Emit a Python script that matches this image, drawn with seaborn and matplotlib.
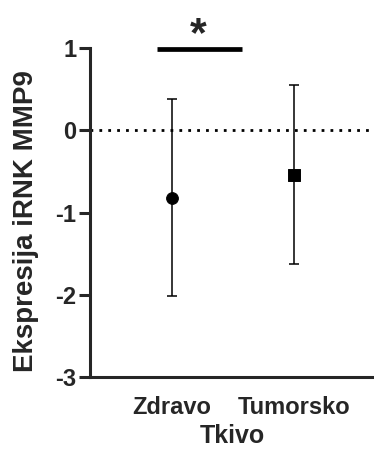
import matplotlib
matplotlib.use("Agg")
import matplotlib.pyplot as plt
import seaborn as sns
import pandas as pd
import numpy as np

groups = ["Zdravo", "Tumorsko"]
means = [-0.82, -0.54]
upper = [0.38, 0.55]
lower = [-2.02, -1.63]
markers = ["o", "s"]
yticks = [1, 0, -1, -2, -3]
xlabel = "Tkivo"
ylabel = "Ekspresija iRNK MMP9"
sig_text = "*"

sns.set_style("ticks")
plt.rcParams["font.family"] = ["Liberation Sans", "DejaVu Sans"]
plt.rcParams["font.weight"] = "bold"

df = pd.DataFrame({"group": groups, "mean": means})

fig = plt.figure(figsize=(3.74, 4.58), dpi=100)
ax = fig.add_axes([0.241, 0.177, 0.759, 0.718])

xpos = np.arange(len(groups))
yerr = [np.array(means) - np.array(lower), np.array(upper) - np.array(means)]
ax.errorbar(xpos, means, yerr=yerr, fmt="none", ecolor="black",
            elinewidth=1.1, capsize=3.5, capthick=1.1, zorder=3)
for i, g in enumerate(groups):
    sub = df[df["group"] == g]
    sns.scatterplot(data=sub, x=[i], y="mean", marker=markers[i], s=72,
                    color="black", edgecolor="black", ax=ax, zorder=4)

ax.axhline(0, color="black", linestyle=(0, (1, 2.2)), linewidth=2.0, zorder=1)

# significance bar
ax.plot([-0.12, 0.57], [0.985, 0.985], color="black", linewidth=3.4,
        clip_on=False, solid_capstyle="butt")
ax.text(0.215, 0.92, sig_text, ha="center", va="bottom", fontsize=31,
        fontweight="bold", clip_on=False)

ax.set_xlim(-0.67, 1.65)
ax.set_ylim(-3, 1)
ax.set_yticks(yticks)
ax.set_yticklabels([str(t) for t in yticks], fontsize=17, fontweight="bold")
ax.set_xticks(xpos)
ax.set_xticklabels(groups, fontsize=17, fontweight="bold")
ax.tick_params(axis="x", length=0, pad=14)
ax.tick_params(axis="y", length=8, width=2.2, pad=2)
ax.set_xlabel(xlabel, fontsize=18, fontweight="bold", labelpad=3)
ax.set_ylabel(ylabel, fontsize=20, fontweight="bold")
ax.yaxis.set_label_coords(-0.18, 0.474)

sns.despine(ax=ax, right=True, top=True)
for s in ["left", "bottom"]:
    ax.spines[s].set_linewidth(2.2)

fig.savefig("out.png", dpi=100)
